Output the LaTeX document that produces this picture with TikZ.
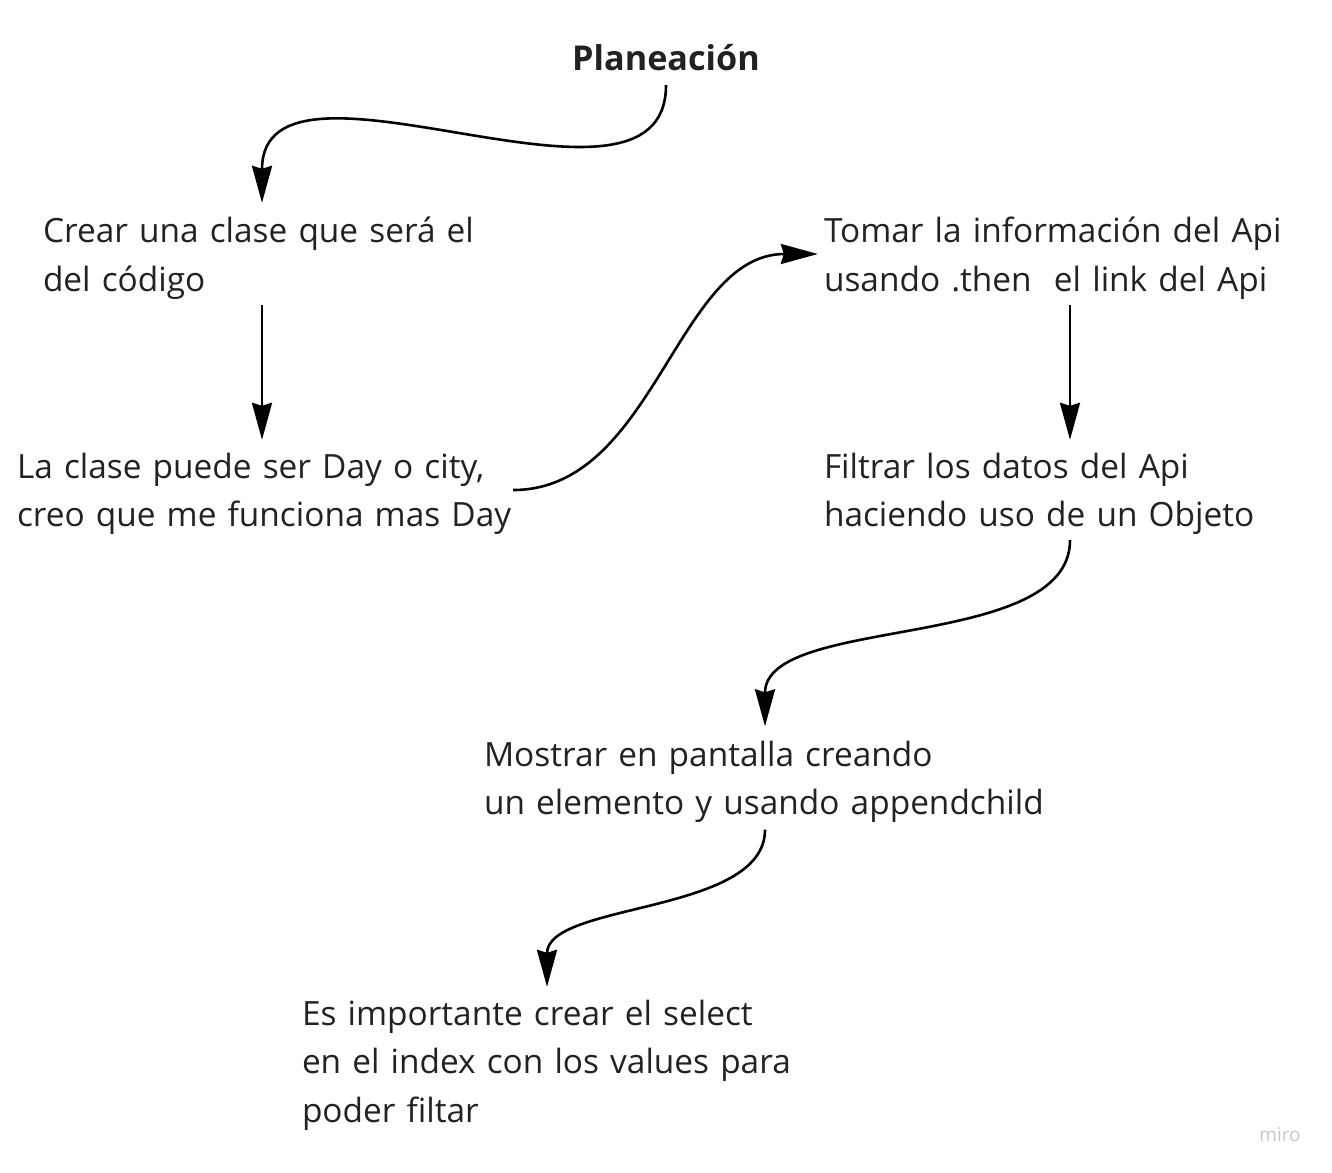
\documentclass[tikz,border=0pt]{standalone}
\usepackage{fontspec}
\setmainfont{Open Sans}
\usepackage{tikz}
\usetikzlibrary{arrows.meta}
\definecolor{ink}{HTML}{222222}
\definecolor{mirogray}{HTML}{C8C8CC}

\begin{document}
\begin{tikzpicture}[x=1pt,y=-1pt,
  note/.style={align=left,inner xsep=6pt,inner ysep=0pt,text depth=48.5pt,text=ink,font=\fontsize{33.4}{48.5}\selectfont},
  flow/.style={line width=2.6pt,-{Stealth[length=37pt,width=20pt,inset=3pt]}}]
\useasboundingbox (0,0) rectangle (1332,1172);
\node[inner sep=0pt,minimum height=54pt,text=ink,font=\fontsize{34.2}{40}\selectfont\bfseries] (0) at (666,58){Planeación};
\node[note,text width=438pt,minimum height=102pt] (1) at (262,254){\mbox{Crear una clase que será el}\\\mbox{del código}};
\node[note,text width=490pt,minimum height=100pt] (2) at (262,490){\mbox{La clase puede ser Day o city,}\\\mbox{creo que me funciona mas Day}};
\node[note,text width=492pt,minimum height=102pt] (3) at (1070,254){\mbox{Tomar la información del Api}\\\mbox{usando .then\ \ el link del Api}};
\node[note,text width=492pt,minimum height=100pt] (4) at (1070,490){\mbox{Filtrar los datos del Api}\\\mbox{haciendo uso de un Objeto}};
\node[note,text width=562pt,minimum height=103pt] (5) at (765,778){\mbox{Mostrar en pantalla creando}\\\mbox{un elemento y usando appendchild}};
\node[note,text width=490pt,minimum height=148pt,text depth=97pt] (6) at (547,1061){\mbox{Es importante crear el select}\\\mbox{en el index con los values para}\\\mbox{poder filtar}};
\node[inner sep=0pt,text=mirogray,font=\fontsize{19}{22}\selectfont] (miro) at (1280,1135){miro};
\foreach \from/\to in {1/2,3/4}
  \draw[flow] (\from.south) -- (\to.north);
\draw[flow] (0.south) .. controls +(0,160) and +(0,-176) .. (1.north);
\draw[flow] (2.east) .. controls +(141,0) and +(-141,0) .. (3.west);
\draw[flow] (4.south) .. controls +(0,112) and +(0,-112) .. (5.north);
\draw[flow] (5.south) .. controls +(0,85) and +(0,-85) .. (6.north);
\end{tikzpicture}
\end{document}
